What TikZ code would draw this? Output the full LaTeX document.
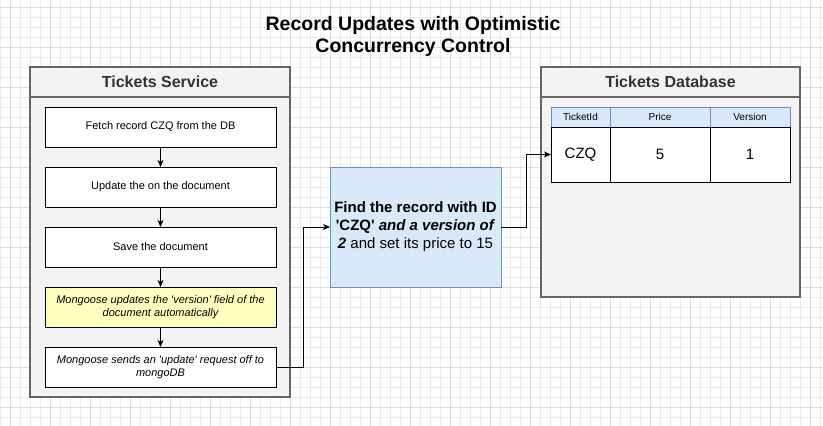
\documentclass[tikz,border=0pt]{standalone}
\usepackage{fontspec}
\setmainfont{Liberation Sans}[Ligatures=TeXOff]
\usetikzlibrary{arrows.meta,calc}
\definecolor{contfill}{HTML}{F4F2F2}
\definecolor{contline}{HTML}{666666}
\definecolor{bluefill}{HTML}{DAE8FC}
\definecolor{blueline}{HTML}{6C8EBF}
\definecolor{yelfill}{HTML}{FFFFC0}
\definecolor{gridmin}{HTML}{EBEBEB}
\definecolor{gridmaj}{HTML}{DCDCDC}
\begin{document}
\begin{tikzpicture}[x=1pt,y=-1pt,
  gridminor/.style={draw=gridmin, line width=0.8pt},
  gridmajor/.style={draw=gridmaj, line width=0.8pt},
  container/.style={draw=contline, line width=1.5pt, fill=contfill, inner sep=0pt, outer sep=0pt},
  contheader/.style={container, font=\fontsize{16}{19}\selectfont\bfseries, text=black!80},
  stepbox/.style={draw=black, line width=1pt, fill=white, inner sep=2pt, outer sep=0pt,
    minimum width=231pt, minimum height=40pt, align=center, font=\fontsize{11}{13}\selectfont},
  notebox/.style={stepbox, fill=yelfill, font=\fontsize{11}{13}\selectfont\itshape},
  querybox/.style={draw=blueline, line width=1pt, fill=bluefill, inner sep=2pt, outer sep=0pt,
    minimum width=171pt, minimum height=120pt, align=center,
    font=\fontsize{15}{18}\selectfont},
  headcell/.style={draw=blueline, line width=1pt, fill=bluefill, inner sep=0pt, outer sep=0pt,
    minimum height=20pt, font=\fontsize{10}{12}\selectfont},
  datacell/.style={draw=black, line width=1pt, fill=white, inner sep=0pt, outer sep=0pt,
    minimum height=55pt, font=\fontsize{15}{18}\selectfont},
  arr/.style={-{Stealth[length=7pt,width=6pt,inset=2pt]}, line width=1pt, black},
  titletext/.style={align=center, font=\fontsize{19.5}{22}\selectfont\bfseries}
]
\useasboundingbox (0,0) rectangle (823,426);
\fill[white] (0,0) rectangle (823,426);
% background grid
\foreach \x in {0,10,...,820} \draw[gridminor] (\x,0) -- (\x,426);
\foreach \y in {7,17,...,417} \draw[gridminor] (0,\y) -- (823,\y);
\foreach \x in {10,50,...,810} \draw[gridmajor] (\x,0) -- (\x,426);
\foreach \y in {7,47,...,407} \draw[gridmajor] (0,\y) -- (823,\y);

% title
\node[titletext] (title) at (413,36) {Record Updates with Optimistic\\Concurrency Control};

% Tickets Service container
\node[container, minimum width=260pt, minimum height=330pt] (svc) at (160,232) {};
\node[contheader, minimum width=260pt, minimum height=30pt, anchor=north] (svch) at (svc.north) {Tickets Service};

\node[stepbox] (s1) at (160.5,127) {Fetch record CZQ from the DB};
\node[stepbox] (s2) at (160.5,187) {Update the on the document};
\node[stepbox] (s3) at (160.5,247) {Save the document};
\node[notebox] (s4) at (160.5,307) {Mongoose updates the 'version' field of the\\document automatically};
\node[stepbox, font=\fontsize{11}{13}\selectfont\itshape] (s5) at (160.5,367) {Mongoose sends an 'update' request off to\\mongoDB};

\draw[arr] (s1.south) -- (s2.north);
\draw[arr] (s2.south) -- (s3.north);
\draw[arr] (s3.south) -- (s4.north);
\draw[arr] (s4.south) -- (s5.north);

% query box
\node[querybox] (q) at (415.5,227) {\textbf{Find the record with ID}\\\textbf{'CZQ' \textit{and a version of}}\\\textbf{\textit{2}} and set its price to 15};

% Tickets Database container
\node[container, minimum width=259pt, minimum height=230pt] (db) at (670.5,182) {};
\node[contheader, minimum width=259pt, minimum height=30pt, anchor=north] (dbh) at (db.north) {Tickets Database};

\node[headcell, minimum width=59pt] (h1) at (580.5,117) {TicketId};
\node[headcell, minimum width=100pt] (h2) at (660,117) {Price};
\node[headcell, minimum width=80pt] (h3) at (750,117) {Version};
\node[datacell, minimum width=59pt] (d1) at (580.5,154.5) {CZQ};
\node[datacell, minimum width=100pt] (d2) at (660,154.5) {5};
\node[datacell, minimum width=80pt] (d3) at (750,154.5) {1};

% connectors
\draw[arr] (s5.east) -- ++(27,0) |- (q.west);
\draw[arr] (q.east) -- ++(25,0) |- (d1.west);
\end{tikzpicture}
\end{document}
